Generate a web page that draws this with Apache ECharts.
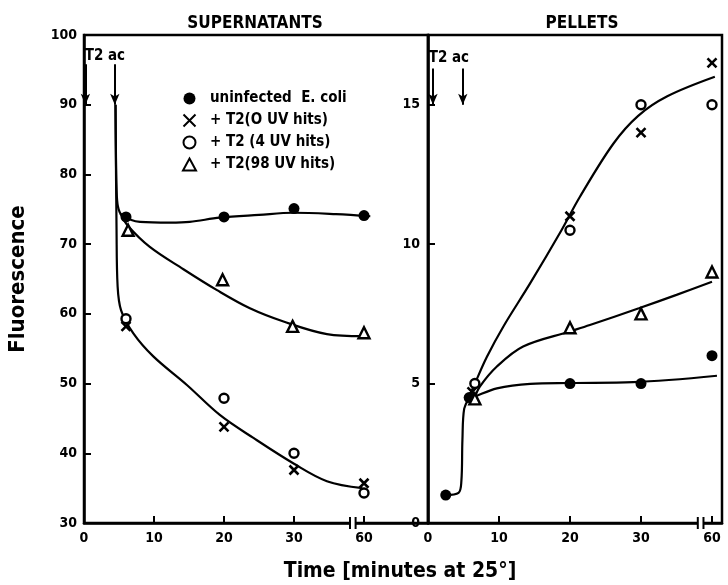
<!DOCTYPE html>
<html><head><meta charset="utf-8">
<script src="https://cdn.jsdelivr.net/npm/echarts@6/dist/echarts.min.js"></script>
<style>html,body{margin:0;padding:0;background:#fff}#c{width:728px;height:585px}</style>
</head><body><div id="c"></div>
<script>
// ---------- data (minutes, fluorescence) ----------
const xTicks = [0, 10, 20, 30, 60];            // tick labels on both time axes
const names = ['uninfected  E. coli', '+ T2(O UV hits)', '+ T2 (4 UV hits)', '+ T2(98 UV hits)'];

// Supernatants: measured points
const supUninf = [[6,73.9],[20,73.9],[30,75.1],[60,74.1]];
const supT2_0  = [[6,58.2],[20,43.8],[30,37.6],[60,35.7]];
const supT2_4  = [[6,59.3],[20,47.9],[30,40.0],[60,34.3]];
const supT2_98 = [[6.3,72.0],[19.8,64.9],[29.8,58.2],[60,57.3]];
// Supernatants: hand-drawn fitted curves
const supCurveUninf = [[4.5,90],[4.55,84],[4.65,78],[4.85,75.4],[5.4,74.2],[8,73.2],[12.3,73.1],[15.1,73.2],[19.4,73.8],[25,74.2],[29.9,74.5],[48,74.3],[60.9,74.0]];
const supCurve98    = [[5.2,74.4],[6.3,72.6],[9.4,69.6],[14.2,66.4],[19,63.4],[23.7,60.8],[28.5,58.9],[44.1,57.1],[59.5,56.8]];
const supCurve0_4   = [[4.5,90],[4.65,72],[4.8,64],[5.3,60.5],[7.05,57.2],[9.9,53.9],[14.7,49.8],[19.4,45.5],[24.2,42.2],[30,38.5],[44.1,36.0],[59.3,35.0]];

// Pellets: measured points
const pelUninf = [[2.5,1.0],[5.8,4.5],[20,5.0],[30,5.0],[60,6.0]];
const pelT2_0  = [[6.2,4.7],[20,11.0],[30,14.0],[60,16.5]];
const pelT2_4  = [[6.6,5.0],[20,10.5],[30,15.0],[60,15.0]];
const pelT2_98 = [[6.6,4.45],[20,7.0],[30,7.5],[60,9.0]];
// Pellets: fitted curves
const pelCurveUninf = [[2.5,1.0],[4.3,1.08],[4.7,1.5],[4.85,3],[5.1,4.1],[5.8,4.45],[6.6,4.53],[9.7,4.83],[14.4,4.99],[20,5.02],[28.9,5.05],[60.7,5.28]];
const pelCurve98    = [[6.6,4.5],[7.3,4.89],[9.7,5.61],[13.4,6.33],[20,6.87],[22.8,7.1],[29.7,7.7],[45,8.18],[60,8.65]];
const pelCurve0_4   = [[5.9,4.6],[6.6,5.0],[8.3,5.96],[10.6,7.04],[14.4,8.6],[18.8,10.5],[21.4,11.7],[26.1,13.6],[29.6,14.6],[41.1,15.3],[60.4,16.0]];

// ---------- broken time axis: 30..60 min compressed into 10 units ----------
function pos(t){ return t <= 30 ? t : (t < 60 ? 30 + (t - 30) / 3 : t - 20); }
function mapPts(a){ return a.map(p => [pos(p[0]), p[1]]); }
const tickPos = xTicks.map(pos);
function xLabel(v){ const i = tickPos.findIndex(p => Math.abs(p - v) < 1e-6); return i >= 0 ? String(xTicks[i]) : ''; }

const FONT = "'Liberation Sans Narrow','DejaVu Sans Condensed','Roboto Condensed','Open Sans','Liberation Sans',sans-serif";
const BOLD = 'bold';
const black = '#000';

const cross = 'path://M0,0L10,10M10,0L0,10';
const styles = [
  {symbol:'circle', symbolSize:11, itemStyle:{color:black, borderColor:black, borderWidth:0, opacity:1}},
  {symbol:cross, symbolSize:9, itemStyle:{color:black, borderColor:black, borderWidth:2.6, opacity:1}},
  {symbol:'circle', symbolSize:9, itemStyle:{color:'#fff', borderColor:black, borderWidth:2.4, opacity:1}},
  {symbol:'triangle', symbolSize:11, itemStyle:{color:'#fff', borderColor:black, borderWidth:2.4, opacity:1}}
];

function scatter(i, data, g){
  return Object.assign({type:'scatter', name:names[i], xAxisIndex:g, yAxisIndex:g, data:mapPts(data), z:5, silent:true}, styles[i]);
}
function curve(data, g){
  return {type:'line', xAxisIndex:g, yAxisIndex:g, data:mapPts(data), smooth:0.35, symbol:'none',
          lineStyle:{color:black, width:2.2}, z:3, silent:true};
}
function arrows(g, ptsList){
  return {type:'line', xAxisIndex:g, yAxisIndex:g, data:[], silent:true,
    markLine:{silent:true, symbol:['none','arrow'], symbolSize:[7,11], label:{show:false},
      lineStyle:{color:black, width:2, type:'solid'},
      data: ptsList.map(p => [{coord:p[0]},{coord:p[1]}])}};
}

const axisLabelStyle = {color:black, fontFamily:FONT, fontWeight:BOLD, fontSize:14};

const chart = echarts.init(document.getElementById('c'), null, {renderer:'canvas'});
chart.setOption({
  animation:false,
  backgroundColor:'#fff',
  title:[
    {text:'SUPERNATANTS', left:250, top:10, textAlign:'center', textStyle:{fontFamily:FONT, fontWeight:BOLD, fontSize:17, color:black}},
    {text:'PELLETS', left:577, top:10, textAlign:'center', textStyle:{fontFamily:FONT, fontWeight:BOLD, fontSize:17, color:black}},
    {text:'Time [minutes at 25°]', left:395, top:556, textAlign:'center', textStyle:{fontFamily:FONT, fontWeight:BOLD, fontSize:21, color:black}}
  ],
  legend:{orient:'vertical', left:177, top:85, itemGap:5, itemWidth:13, itemHeight:12, selectedMode:false,
    data:names, textStyle:{fontFamily:FONT, fontWeight:BOLD, fontSize:15, color:black, padding:[0,0,0,9], lineHeight:17}},
  grid:[
    {left:84, top:35, width:344, height:488, show:true, borderColor:black, borderWidth:2.5, backgroundColor:'transparent'},
    {left:428, top:35, width:294, height:488, show:true, borderColor:black, borderWidth:2.5, backgroundColor:'transparent'}
  ],
  xAxis:[
    {type:'value', gridIndex:0, min:0, max:344/7, interval:10,
     axisLine:{lineStyle:{color:black, width:2.5}}, splitLine:{show:false},
     axisTick:{inside:true, length:7, lineStyle:{color:black, width:2}},
     axisLabel:Object.assign({formatter:xLabel, showMaxLabel:false, margin:8}, axisLabelStyle)},
    {type:'value', gridIndex:1, min:0, max:294/7.1, interval:10,
     axisLine:{lineStyle:{color:black, width:2.5}}, splitLine:{show:false},
     axisTick:{inside:true, length:7, lineStyle:{color:black, width:2}},
     axisLabel:Object.assign({formatter:xLabel, showMaxLabel:false, margin:8}, axisLabelStyle)}
  ],
  yAxis:[
    {type:'value', gridIndex:0, min:30, max:100, interval:10,
     name:'Fluorescence', nameLocation:'middle', nameGap:55, nameRotate:90,
     nameTextStyle:{fontFamily:FONT, fontWeight:BOLD, fontSize:22, color:black},
     axisLine:{lineStyle:{color:black, width:2.5}}, splitLine:{show:false},
     axisTick:{inside:true, length:7, lineStyle:{color:black, width:2}},
     axisLabel:Object.assign({margin:7}, axisLabelStyle)},
    {type:'value', gridIndex:1, min:0, max:17.5, interval:5,
     axisLine:{lineStyle:{color:black, width:2.5}}, splitLine:{show:false},
     axisTick:{inside:true, length:7, lineStyle:{color:black, width:2}},
     axisLabel:Object.assign({margin:8, showMaxLabel:false}, axisLabelStyle)}
  ],
  series:[
    curve(supCurveUninf,0), curve(supCurve98,0), curve(supCurve0_4,0),
    scatter(0,supUninf,0), scatter(1,supT2_0,0), scatter(2,supT2_4,0), scatter(3,supT2_98,0),
    curve(pelCurveUninf,1), curve(pelCurve98,1), curve(pelCurve0_4,1),
    scatter(0,pelUninf,1), scatter(1,pelT2_0,1), scatter(2,pelT2_4,1), scatter(3,pelT2_98,1),
    arrows(0, [[[0.2,95.8],[0.2,90]], [[4.4,95.8],[4.4,90]]]),
    arrows(1, [[[0.7,16.3],[0.7,15.0]], [[4.9,16.3],[4.9,15.0]]])
  ]
});

// decorations: "T2 ac" labels and axis-break marks
const gfx = [];
function txt(g, at, s){
  const p = chart.convertToPixel({gridIndex:g}, at);
  gfx.push({type:'text', x:p[0], y:p[1], style:{text:s, fill:black, font:'bold 15px ' + FONT, textVerticalAlign:'bottom'}, z:10});
}
txt(0, [0.1, 95.9], 'T2 ac');
txt(1, [0.1, 16.4], 'T2 ac');
[[0,30],[1,0]].forEach(([g,y0]) => {
  const a = chart.convertToPixel({gridIndex:g}, [38, y0]);
  const b = chart.convertToPixel({gridIndex:g}, [38.8, y0]);
  gfx.push({type:'rect', shape:{x:a[0], y:a[1]-2, width:b[0]-a[0], height:4}, style:{fill:'#fff'}, z:10});
  gfx.push({type:'line', shape:{x1:a[0], y1:a[1]-6, x2:a[0], y2:a[1]+6}, style:{stroke:black, lineWidth:2}, z:11});
  gfx.push({type:'line', shape:{x1:b[0], y1:b[1]-6, x2:b[0], y2:b[1]+6}, style:{stroke:black, lineWidth:2}, z:11});
});
chart.setOption({graphic:gfx});
</script></body></html>
